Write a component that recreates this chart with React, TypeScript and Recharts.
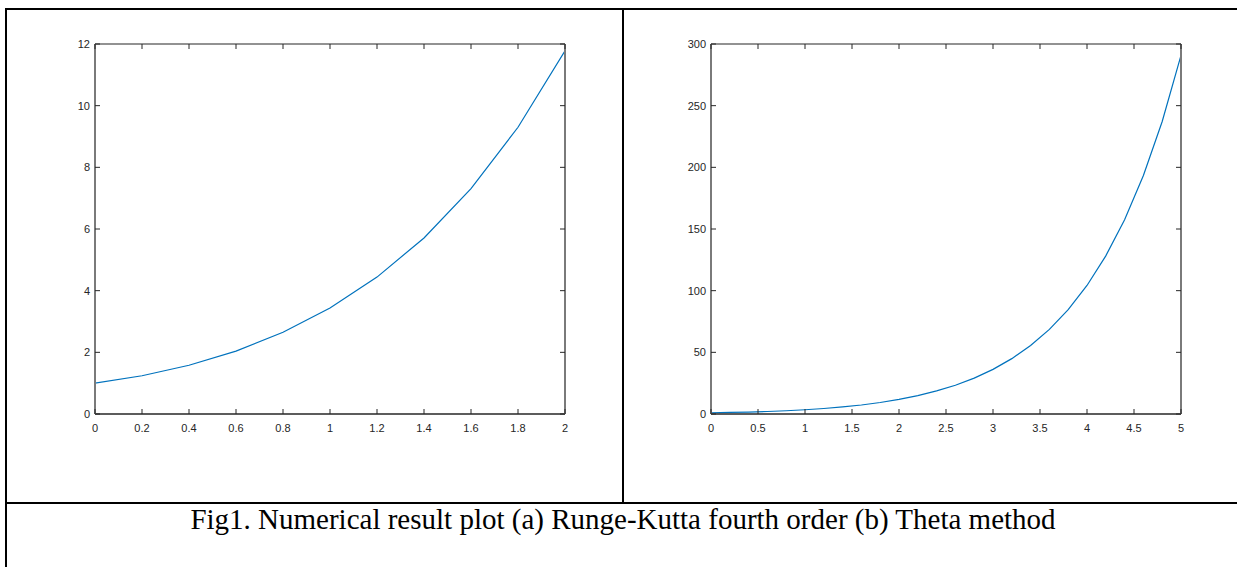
import { LineChart, Line, XAxis, YAxis } from "recharts";

const rkX = [0, 0.2, 0.4, 0.6, 0.8, 1, 1.2, 1.4, 1.6, 1.8, 2];
const rkY = [1, 1.24, 1.58, 2.04, 2.65, 3.44, 4.44, 5.71, 7.31, 9.3, 11.78];

const thetaX = [
  0, 0.2, 0.4, 0.6, 0.8, 1, 1.2, 1.4, 1.6, 1.8, 2, 2.2, 2.4, 2.6, 2.8, 3, 3.2, 3.4, 3.6, 3.8, 4, 4.2,
  4.4, 4.6, 4.8, 5,
];
const thetaY = [
  1, 1.24, 1.58, 2.04, 2.65, 3.44, 4.44, 5.71, 7.31, 9.3, 11.8, 14.9, 18.7, 23.3, 29.1, 36.2, 44.9,
  55.5, 68.6, 84.6, 104.2, 128.2, 157.5, 193.4, 237.2, 290.8,
];

const rkXTicks = [0, 0.2, 0.4, 0.6, 0.8, 1, 1.2, 1.4, 1.6, 1.8, 2];
const rkYTicks = [0, 2, 4, 6, 8, 10, 12];
const thetaXTicks = [0, 0.5, 1, 1.5, 2, 2.5, 3, 3.5, 4, 4.5, 5];
const thetaYTicks = [0, 50, 100, 150, 200, 250, 300];

const caption = "Fig1. Numerical result plot (a) Runge-Kutta fourth order (b) Theta method";

const rkData = rkX.map((x, i) => ({ x, y: rkY[i] }));
const thetaData = thetaX.map((x, i) => ({ x, y: thetaY[i] }));

const INK = "#262626";
const FONT = "'Liberation Sans', Arial, sans-serif";
const TICK = 5;

function BottomTick(props: any) {
  const { x, y, payload } = props;
  return (
    <g>
      <line x1={x} y1={y} x2={x} y2={y - TICK} stroke={INK} strokeWidth={1} />
      <text x={x} y={y + 18} textAnchor="middle" fontSize={11} fill={INK} fontFamily={FONT}>
        {payload.value}
      </text>
    </g>
  );
}

function TopTick(props: any) {
  const { x, y } = props;
  return <line x1={x} y1={y} x2={x} y2={y + TICK} stroke={INK} strokeWidth={1} />;
}

function LeftTick(props: any) {
  const { x, y, payload } = props;
  return (
    <g>
      <line x1={x} y1={y} x2={x + TICK} y2={y} stroke={INK} strokeWidth={1} />
      <text x={x - 5} y={y} dy="0.35em" textAnchor="end" fontSize={11} fill={INK} fontFamily={FONT}>
        {payload.value}
      </text>
    </g>
  );
}

function RightTick(props: any) {
  const { x, y } = props;
  return <line x1={x} y1={y} x2={x - TICK} y2={y} stroke={INK} strokeWidth={1} />;
}

type PanelProps = {
  data: { x: number; y: number }[];
  xTicks: number[];
  yTicks: number[];
  width: number;
  height: number;
  left: number;
  right: number;
};

function Panel({ data, xTicks, yTicks, width, height, left, right }: PanelProps) {
  const xDomain = [xTicks[0], xTicks[xTicks.length - 1]];
  const yDomain = [yTicks[0], yTicks[yTicks.length - 1]];
  return (
    <LineChart
      width={width}
      height={height}
      data={data}
      margin={{ top: 43, right: right - 1, bottom: height - 414 - 30, left: left - 40 }}
    >
      <XAxis
        xAxisId="b"
        dataKey="x"
        type="number"
        domain={xDomain}
        ticks={xTicks}
        interval={0}
        height={30}
        tickSize={0}
        tickMargin={0}
        tickLine={false}
        axisLine={{ stroke: INK, strokeWidth: 1.5 }}
        tick={(p: any) => <BottomTick {...p} />}
        allowDataOverflow
      />
      <XAxis
        xAxisId="t"
        dataKey="x"
        orientation="top"
        type="number"
        domain={xDomain}
        ticks={xTicks}
        interval={0}
        height={1}
        tickSize={0}
        tickMargin={0}
        tickLine={false}
        axisLine={{ stroke: "#6e6e6e", strokeWidth: 1.5 }}
        tick={(p: any) => <TopTick {...p} />}
        allowDataOverflow
      />
      <YAxis
        yAxisId="l"
        type="number"
        domain={yDomain}
        ticks={yTicks}
        interval={0}
        width={40}
        tickSize={0}
        tickMargin={0}
        tickLine={false}
        axisLine={{ stroke: "#7a7a7a", strokeWidth: 2 }}
        tick={(p: any) => <LeftTick {...p} />}
        allowDataOverflow
      />
      <YAxis
        yAxisId="r"
        orientation="right"
        type="number"
        domain={yDomain}
        ticks={yTicks}
        interval={0}
        width={1}
        tickSize={0}
        tickMargin={0}
        tickLine={false}
        axisLine={{ stroke: "#7a7a7a", strokeWidth: 2 }}
        tick={(p: any) => <RightTick {...p} />}
        allowDataOverflow
      />
      <Line
        xAxisId="b"
        yAxisId="l"
        dataKey="y"
        type="linear"
        stroke="#0072BD"
        strokeWidth={1.2}
        dot={false}
        isAnimationActive={false}
      />
      <Line
        xAxisId="t"
        yAxisId="r"
        dataKey="y"
        type="linear"
        stroke="none"
        dot={false}
        activeDot={false}
        legendType="none"
        isAnimationActive={false}
      />
    </LineChart>
  );
}

export default function App() {
  return (
    <div
      style={{
        position: "absolute",
        left: 0,
        top: 0,
        width: 1237,
        height: 567,
        background: "#fff",
        overflow: "hidden",
      }}
    >
      {/* table frame */}
      <div style={{ position: "absolute", left: 5, top: 8, width: 1240, height: 2, background: "#000" }} />
      <div style={{ position: "absolute", left: 5, top: 8, width: 2, height: 570, background: "#000" }} />
      <div style={{ position: "absolute", left: 622, top: 8, width: 2, height: 496, background: "#000" }} />
      <div style={{ position: "absolute", left: 5, top: 502, width: 1240, height: 2, background: "#000" }} />

      <div style={{ position: "absolute", left: 0, top: 0 }}>
        <Panel data={rkData} xTicks={rkXTicks} yTicks={rkYTicks} width={620} height={500} left={95} right={55} />
      </div>
      <div style={{ position: "absolute", left: 622, top: 0 }}>
        <Panel
          data={thetaData}
          xTicks={thetaXTicks}
          yTicks={thetaYTicks}
          width={615}
          height={500}
          left={89}
          right={56}
        />
      </div>

      <div
        style={{
          position: "absolute",
          left: 0,
          top: 503,
          width: 1246,
          textAlign: "center",
          fontFamily: "'Liberation Serif', 'Times New Roman', serif",
          fontSize: 29,
          lineHeight: "normal",
          color: "#000",
          whiteSpace: "nowrap",
        }}
      >
        {caption}
      </div>
    </div>
  );
}
